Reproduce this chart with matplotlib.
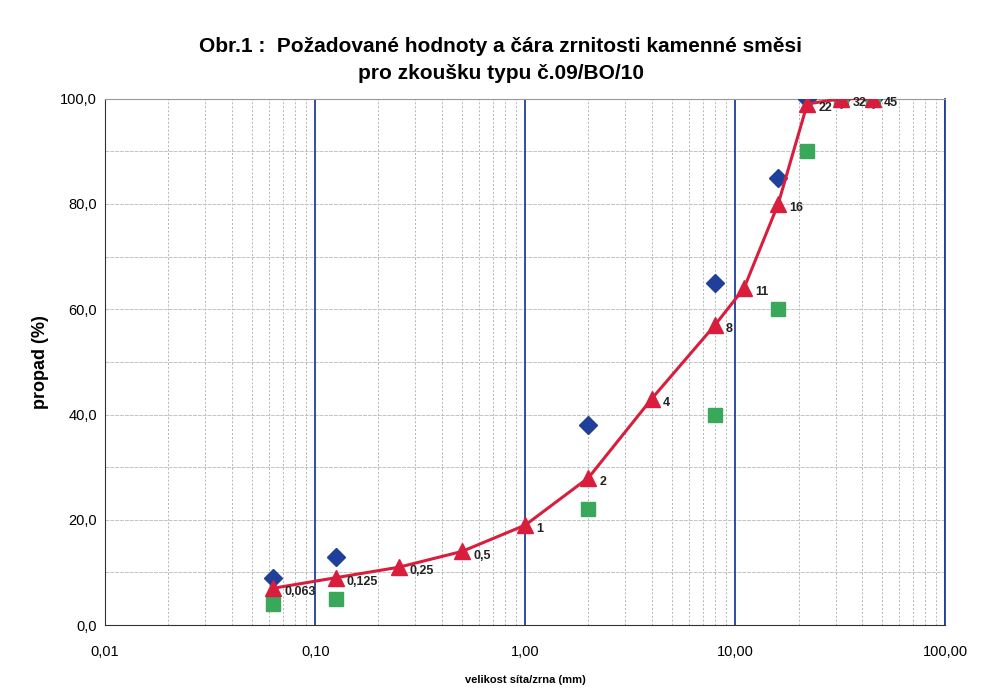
import matplotlib
matplotlib.use("Agg")
import matplotlib.pyplot as plt
from matplotlib.ticker import FixedLocator, LogLocator, NullFormatter

plt.rcParams["font.family"] = ["Liberation Sans", "DejaVu Sans"]

sieves = [0.063, 0.125, 0.25, 0.5, 1, 2, 4, 8, 11, 16, 22, 32, 45]
sieve_labels = ["0,063", "0,125", "0,25", "0,5", "1", "2", "4", "8", "11", "16", "22", "32", "45"]
curve = [7, 9, 11, 14, 19, 28, 43, 57, 64, 80, 99, 100, 100]

upper_x = [0.063, 0.125, 2, 8, 16, 22, 32, 45]
upper_y = [9, 13, 38, 65, 85, 100, 100, 100]

lower_x = [0.063, 0.125, 2, 8, 16, 22, 32, 45]
lower_y = [4, 5, 22, 40, 60, 90, 100, 100]

x_ticks = [0.01, 0.1, 1, 10, 100]
x_ticklabels = ["0,01", "0,10", "1,00", "10,00", "100,00"]
y_ticks = [0, 20, 40, 60, 80, 100]
y_ticklabels = ["0,0", "20,0", "40,0", "60,0", "80,0", "100,0"]

fig = plt.figure(figsize=(9.92, 6.9), dpi=100)
ax = fig.add_axes([0.106, 0.094, 0.847, 0.763])
ax.set_xscale("log")
ax.set_xlim(0.01, 100)
ax.set_ylim(0, 100)

# grid
for d in [0.01, 0.1, 1, 10]:
    for k in range(2, 10):
        ax.axvline(d * k, color="#b5b5b5", lw=0.7, ls=(0, (2, 2)), zorder=0)
for d in [0.1, 1, 10, 100]:
    ax.axvline(d, color="#1f3f9a", lw=1.3, zorder=1)
for yv in range(10, 100, 10):
    ax.axhline(yv, color="#c4c4c4", lw=0.7, ls=(0, (4, 1)), zorder=0)

ax.plot(upper_x, upper_y, ls="none", marker="D", ms=9, color="#1f3f9a", zorder=3)
ax.plot(lower_x, lower_y, ls="none", marker="s", ms=10, color="#3aa85a", zorder=4)
ax.plot(sieves, curve, color="#d81e3c", lw=2.2, marker="^", ms=11, zorder=5)
for x, y, lab in zip(sieves, curve, sieve_labels):
    ax.annotate(lab, (x, y), xytext=(8, -3), textcoords="offset points",
                fontsize=9, fontweight="bold", color="#222222", va="center", zorder=6)

ax.xaxis.set_major_locator(FixedLocator(x_ticks))
ax.set_xticklabels(x_ticklabels)
ax.xaxis.set_minor_locator(LogLocator(base=10, subs=range(2, 10)))
ax.xaxis.set_minor_formatter(NullFormatter())
ax.set_yticks(y_ticks)
ax.set_yticklabels(y_ticklabels)
ax.tick_params(axis="both", which="both", length=0, labelsize=10.5, pad=6)
ax.tick_params(axis="x", pad=14)

ax.spines["left"].set_color("#333333")
ax.spines["bottom"].set_color("#333333")
ax.spines["top"].set_color("#999999")
ax.spines["right"].set_color("#1f3f9a")
ax.spines["right"].set_linewidth(1.3)

ax.set_ylabel("propad (%)", fontsize=13, fontweight="bold", labelpad=8)
fig.text(0.53, 0.01, "velikost síta/zrna (mm)", fontsize=8, fontweight="bold", ha="center")
fig.text(0.505, 0.913, "Obr.1 :  Požadované hodnoty a čára zrnitosti kamenné směsi\npro zkoušku typu č.09/BO/10",
         fontsize=15, fontweight="bold", ha="center", va="center", linespacing=1.5)

fig.savefig("out.png", dpi=100)
